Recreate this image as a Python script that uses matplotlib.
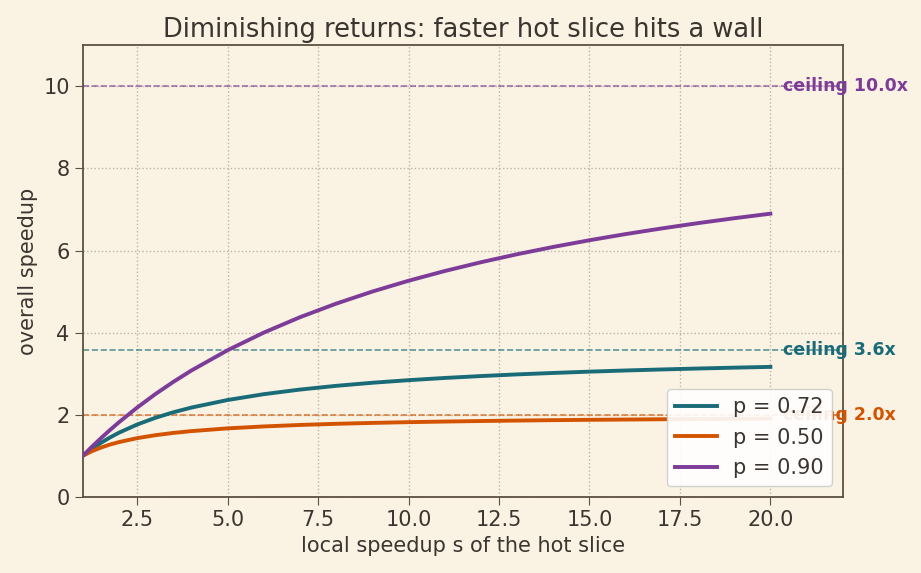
import matplotlib.pyplot as plt

# local speedup of the hot slice
s_vals = [1, 1.25, 1.5, 1.75, 2, 2.5, 3, 3.5, 4, 5, 6, 7, 8, 9, 10,
          11, 12, 13, 14, 15, 16, 17, 18, 19, 20]

# overall speedup, one list per hot fraction p
speedup_072 = [1.0, 1.168, 1.316, 1.446, 1.563, 1.761, 1.923, 2.059, 2.174, 2.358,
               2.5, 2.612, 2.703, 2.778, 2.841, 2.895, 2.941, 2.982, 3.017, 3.049,
               3.077, 3.102, 3.125, 3.146, 3.165]
speedup_050 = [1.0, 1.111, 1.2, 1.273, 1.333, 1.429, 1.5, 1.556, 1.6, 1.667,
               1.714, 1.75, 1.778, 1.8, 1.818, 1.833, 1.846, 1.857, 1.867, 1.875,
               1.882, 1.889, 1.895, 1.9, 1.905]
speedup_090 = [1.0, 1.22, 1.429, 1.628, 1.818, 2.174, 2.5, 2.8, 3.077, 3.571,
               4.0, 4.375, 4.706, 5.0, 5.263, 5.5, 5.714, 5.909, 6.087, 6.25,
               6.4, 6.538, 6.667, 6.786, 6.897]

labels = ["p = 0.72", "p = 0.50", "p = 0.90"]
ceilings = [3.571, 2.0, 10.0]
colors = ["#1a6b78", "#d35400", "#7d3c98"]

bg = "#faf3e4"
ink = "#3b3530"
spine = "#5c5040"

fig, ax = plt.subplots(figsize=(9.21, 5.73), dpi=100)
fig.patch.set_facecolor(bg)
ax.set_facecolor(bg)

for ys, lab, ceil, col in zip([speedup_072, speedup_050, speedup_090], labels, ceilings, colors):
    ax.plot(s_vals, ys, color=col, lw=2.8, label=lab, zorder=3)
    ax.axhline(ceil, color=col, ls="--", lw=1.2, alpha=0.7, zorder=2)
    ax.text(20.35, ceil, f"ceiling {ceil:.1f}x", color=col, fontsize=12.5,
            fontweight="bold", va="center", ha="left", zorder=4)

ax.set_xlim(1, 22)
ax.set_ylim(0, 11)
ax.set_xticks([2.5, 5.0, 7.5, 10.0, 12.5, 15.0, 17.5, 20.0])
ax.set_yticks([0, 2, 4, 6, 8, 10])
ax.grid(True, ls=":", color="#bdb3a2", lw=1.0)
ax.set_axisbelow(True)

for sp in ax.spines.values():
    sp.set_color(spine)
    sp.set_linewidth(1.3)
ax.tick_params(colors=spine, labelcolor=ink, labelsize=15, length=6)

ax.set_title("Diminishing returns: faster hot slice hits a wall", fontsize=18.5, color=ink)
ax.set_xlabel("local speedup s of the hot slice", fontsize=15, color=ink)
ax.set_ylabel("overall speedup", fontsize=15, color=ink)

leg = ax.legend(loc="lower right", fontsize=15, facecolor="white", framealpha=0.9,
                edgecolor="#cccccc", labelcolor=ink)
leg.set_zorder(5)

fig.subplots_adjust(left=0.09, right=0.915, top=0.921, bottom=0.133)
fig.savefig("out.png", dpi=100, facecolor=bg)
